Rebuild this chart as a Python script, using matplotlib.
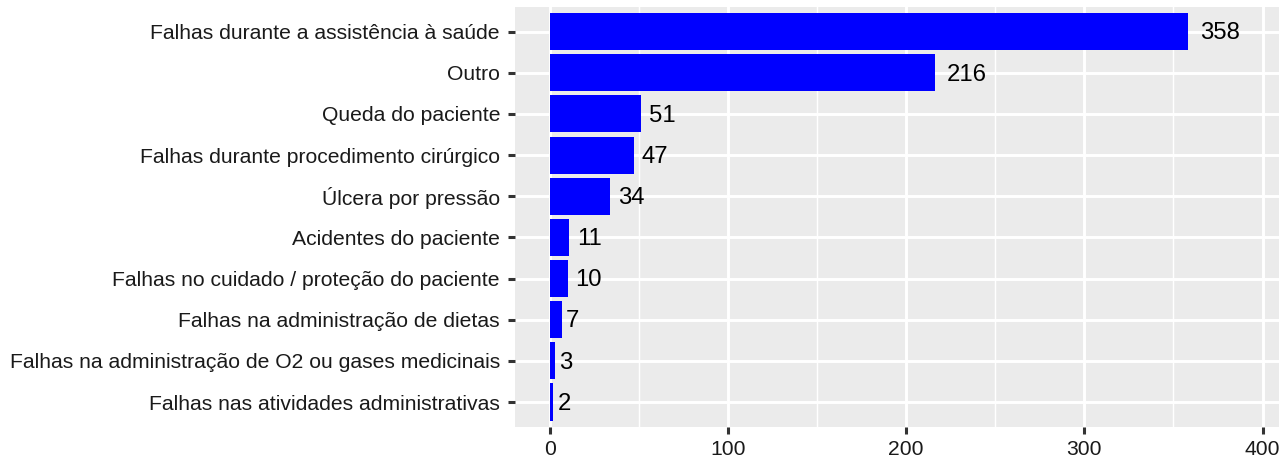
import matplotlib
matplotlib.use("Agg")
import matplotlib.pyplot as plt
from matplotlib.ticker import MultipleLocator

categories = [
    "Falhas durante a assistência à saúde",
    "Outro",
    "Queda do paciente",
    "Falhas durante procedimento cirúrgico",
    "Úlcera por pressão",
    "Acidentes do paciente",
    "Falhas no cuidado / proteção do paciente",
    "Falhas na administração de dietas",
    "Falhas na administração de O2 ou gases medicinais",
    "Falhas nas atividades administrativas",
]
values = [358, 216, 51, 47, 34, 11, 10, 7, 3, 2]
x_ticks = [0, 100, 200, 300, 400]

plt.rcParams['font.family'] = ['Liberation Sans', 'DejaVu Sans']

W, H = 1279, 458
fig = plt.figure(figsize=(W / 100, H / 100), dpi=100)
ax = fig.add_axes([515 / W, (H - 426.7) / H, (W - 515) / W, (426.7 - 7) / H])
ax.set_facecolor("#EBEBEB")

n = len(categories)
pos = [n - i for i in range(n)]
ax.barh(pos, values, height=0.9, color="#0000FF", zorder=3)

ax.set_xlim(-19.5, 409.2)
ax.set_ylim(0.4, n + 0.6)
ax.set_xticks(x_ticks)
ax.set_xticklabels([str(t) for t in x_ticks])
ax.xaxis.set_minor_locator(MultipleLocator(50))
ax.set_yticks(pos)
ax.set_yticklabels(categories)

ax.grid(which="major", color="white", linewidth=2.1, zorder=1)
ax.grid(which="minor", axis="x", color="white", linewidth=1.05, zorder=1)
ax.set_axisbelow(True)
for s in ax.spines.values():
    s.set_visible(False)

ax.tick_params(axis="both", which="major", length=5.0, width=2.2, color="#333333",
               labelsize=15.2, labelcolor="#1A1A1A", pad=5.8)
ax.tick_params(axis="x", which="major", pad=4.3)
ax.tick_params(axis="both", which="minor", length=0)

fs = 17.2
for p, v in zip(pos, values):
    s = str(v)
    off = 0.3 * len(s) * 0.556 * fs
    ax.annotate(s, xy=(v, p), xytext=(off, -1.2), textcoords="offset points",
                ha="left", va="center", fontsize=fs, color="black", zorder=4)

fig.savefig("out.png", dpi=100)
